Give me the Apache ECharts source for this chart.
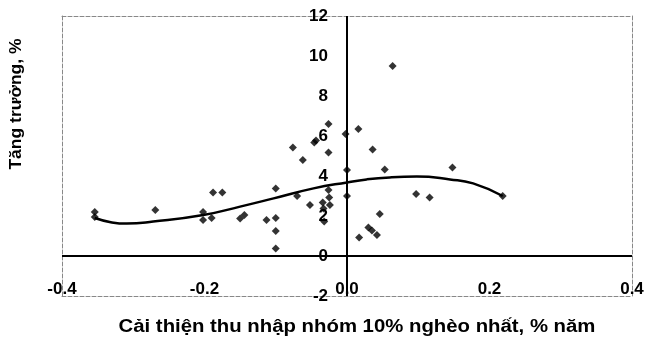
<!DOCTYPE html>
<html>
<head>
<meta charset="utf-8">
<script src="https://cdn.jsdelivr.net/npm/echarts@6/dist/echarts.min.js"></script>
<style>html,body{margin:0;padding:0;background:#fff;}#c{width:648px;height:339px;}</style>
</head>
<body>
<div id="c"></div>
<script>
// Data
const incomeChange = [-0.354,-0.354,-0.269,-0.202,-0.202,-0.190,-0.188,-0.175,-0.150,-0.144,-0.113,-0.100,-0.100,-0.100,-0.100,-0.070,-0.052,-0.062,-0.076,-0.046,-0.0435,-0.026,-0.026,-0.026,-0.025,-0.024,-0.034,-0.033,-0.032,-0.002,0.000,0.000,0.016,0.017,0.030,0.035,0.042,0.046,0.036,0.053,0.064,0.097,0.116,0.148,0.2185];
const growth =       [2.2,1.95,2.3,2.2,1.8,1.9,3.17,3.17,1.88,2.05,1.8,1.9,1.25,0.38,3.38,3.0,2.55,4.8,5.43,5.68,5.77,6.6,5.18,3.3,2.93,2.55,2.67,2.38,1.72,6.1,4.3,3.0,6.35,0.93,1.43,1.27,1.05,2.1,5.33,4.33,9.5,3.1,2.93,4.43,3.0];
const trendX = [-0.354,-0.33,-0.309,-0.272,-0.2017,-0.15,-0.103,-0.047,0.0,0.0276,0.06,0.098,0.1446,0.177,0.2185];
const trendY = [1.9,1.68,1.62,1.72,2.05,2.47,2.88,3.38,3.68,3.83,3.93,3.97,3.83,3.63,3.0];
const xTicks = [-0.4,-0.2,0.0,0.2,0.4];
const yTicks = [-2,0,2,4,6,8,10,12];
const xTitle = 'Cải thiện thu nhập nhóm 10% nghèo nhất, % năm';
const yTitle = 'Tăng trưởng, %';

const font = '"Liberation Sans", Arial, sans-serif';
const chart = echarts.init(document.getElementById('c'), null, {renderer:'canvas'});
const dashedLine = {show:true, onZero:false, lineStyle:{color:'#888', width:1, type:[4,2]}};
const gridLeft = 62, gridRight = 16, plotW = 648 - gridLeft - gridRight;
chart.setOption({
  animation:false,
  grid:{left:gridLeft, right:gridRight, top:16, bottom:43},
  xAxis:[{
    type:'value', min:xTicks[0], max:xTicks[xTicks.length-1], interval:0.2, position:'bottom',
    axisLine:dashedLine, axisTick:{show:false}, splitLine:{show:false},
    axisLabel:{inside:true, margin:-2, color:'#000', fontFamily:font, fontWeight:'bold', fontSize:17,
      formatter:v=>{const t=xTicks.find(x=>Math.abs(x-v)<1e-9);return t===undefined?'':t.toFixed(1);}}
  },{
    type:'value', min:xTicks[0], max:xTicks[xTicks.length-1], position:'top', axisLine:dashedLine,
    axisTick:{show:false}, axisLabel:{show:false}, splitLine:{show:false}
  }],
  yAxis:[{
    type:'value', min:yTicks[0], max:yTicks[yTicks.length-1], interval:2, position:'left',
    offset:-plotW/2,
    axisLine:{show:false, onZero:false}, axisTick:{show:false}, splitLine:{show:false},
    axisLabel:{margin:19, color:'#000', fontFamily:font, fontWeight:'bold', fontSize:17}
  },{
    type:'value', min:yTicks[0], max:yTicks[yTicks.length-1], position:'right', axisLine:dashedLine,
    axisTick:{show:false}, axisLabel:{show:false}, splitLine:{show:false}
  },{
    type:'value', min:yTicks[0], max:yTicks[yTicks.length-1], position:'left', axisLine:dashedLine,
    axisTick:{show:false}, axisLabel:{show:false}, splitLine:{show:false}
  }],
  series:[{
    type:'scatter', xAxisIndex:0, yAxisIndex:0,
    data:incomeChange.map((x,i)=>[x,growth[i]]),
    symbol:'diamond', symbolSize:8, itemStyle:{color:'#000'},
    markLine:{silent:true, symbol:['none','none'], label:{show:false},
      lineStyle:{color:'#000', width:2, type:'solid'}, data:[{yAxis:0},{xAxis:0}]}
  },{
    type:'line', xAxisIndex:0, yAxisIndex:0, smooth:true, showSymbol:false,
    data:trendX.map((x,i)=>[x,trendY[i]]),
    lineStyle:{color:'#000', width:2.5}
  }],
  graphic:[
    {type:'text', x:357, y:327, scaleX:1.13, style:{text:xTitle, font:'bold 18px '+font, fill:'#000', align:'center', verticalAlign:'middle'}},
    {type:'text', x:16, y:104, rotation:Math.PI/2, scaleX:1.03, style:{text:yTitle, font:'bold 17px '+font, fill:'#000', align:'center', verticalAlign:'middle'}}
  ]
});
</script>
</body>
</html>
